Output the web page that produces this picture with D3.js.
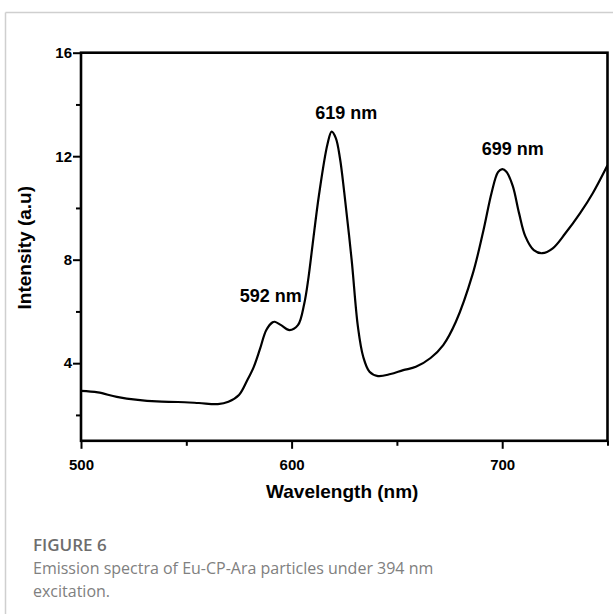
<!DOCTYPE html>
<html>
<head>
<meta charset="utf-8">
<script src="https://cdn.jsdelivr.net/npm/d3@7"></script>
<style>
  body { margin: 0; background: #fff; }
  svg { display: block; }
</style>
</head>
<body>
<div id="chart"></div>
<script>
// emission spectrum
const wavelength = [500, 508, 517, 527, 536, 546, 556, 565, 570, 575, 579, 582, 585, 588, 591, 592, 595, 599, 603, 606, 608, 610, 613, 617, 619, 621, 623, 625, 628.5, 631.5, 634, 637, 641, 647, 653, 659, 666, 672, 678, 686, 691, 695, 698, 700, 702, 705, 708, 711, 715, 719, 724, 730, 737, 743, 750];
const intensity = [2.93, 2.87, 2.70, 2.58, 2.52, 2.50, 2.46, 2.42, 2.51, 2.77, 3.35, 3.85, 4.55, 5.28, 5.58, 5.60, 5.47, 5.28, 5.47, 6.3, 7.3, 8.6, 10.5, 12.45, 12.95, 12.7, 11.9, 10.6, 8.0, 5.4, 4.25, 3.67, 3.50, 3.58, 3.73, 3.86, 4.2, 4.7, 5.6, 7.45, 9.1, 10.6, 11.38, 11.5, 11.4, 10.85, 9.8, 8.9, 8.37, 8.25, 8.44, 9.02, 9.8, 10.57, 11.65];

const peakLabels = ["592 nm", "619 nm", "699 nm"];
const peakAt = [[592, 6.35], [626, 13.44], [705, 12.05]];

const xTicksMajor = [500, 600, 700];
const xTicksMinor = [550, 650, 750];
const yTicksMajor = [4, 8, 12, 16];
const yTicksMinor = [2, 6, 10, 14];

const W = 613, H = 614;
const svg = d3.select("#chart").append("svg")
  .attr("width", W).attr("height", H);

// page frame
svg.append("line").attr("x1", 5.5).attr("x2", W).attr("y1", 12.5).attr("y2", 12.5)
  .attr("stroke", "#cfcfcf").attr("stroke-width", 1.5);
svg.append("line").attr("x1", 5.5).attr("x2", 5.5).attr("y1", 12.5).attr("y2", H)
  .attr("stroke", "#cfcfcf").attr("stroke-width", 1.5);

const plot = { left: 81, right: 607.5, top: 52.7, bottom: 440.8 };

const x = d3.scaleLinear().domain([500, 750]).range([plot.left, plot.right]);
const y = d3.scaleLinear().domain([1, 16]).range([plot.bottom, plot.top]);

const g = svg.append("g");

svg.append("defs").append("clipPath").attr("id", "clip")
  .append("rect")
  .attr("x", plot.left).attr("y", plot.top)
  .attr("width", plot.right - plot.left).attr("height", plot.bottom - plot.top);

// spectrum line
const line = d3.line()
  .x((d, i) => x(wavelength[i]))
  .y(d => y(d))
  .curve(d3.curveCatmullRom.alpha(0.5));

g.append("path")
  .datum(intensity)
  .attr("clip-path", "url(#clip)")
  .attr("fill", "none")
  .attr("stroke", "#000")
  .attr("stroke-width", 2.2)
  .attr("d", line);

// axes (ticks outward)
function styleAxis(sel) {
  sel.select(".domain").remove();
  sel.selectAll("line").attr("stroke", "#000").attr("stroke-width", 2);
  sel.selectAll("text")
    .attr("fill", "#000")
    .style("font-family", "Liberation Sans, Arial, sans-serif")
    .style("font-weight", "bold")
    .style("font-size", "15px");
}

g.append("g").attr("transform", `translate(0,${plot.bottom})`)
  .call(d3.axisBottom(x).tickValues(xTicksMajor).tickSize(8).tickPadding(11).tickFormat(d3.format("d")))
  .call(styleAxis);
g.append("g").attr("transform", `translate(0,${plot.bottom})`)
  .call(d3.axisBottom(x).tickValues(xTicksMinor).tickSize(5).tickFormat(""))
  .call(styleAxis);

g.append("g").attr("transform", `translate(${plot.left},0)`)
  .call(d3.axisLeft(y).tickValues(yTicksMajor).tickSize(8).tickPadding(1).tickFormat(d3.format("d")))
  .call(styleAxis);
g.append("g").attr("transform", `translate(${plot.left},0)`)
  .call(d3.axisLeft(y).tickValues(yTicksMinor).tickSize(5).tickFormat(""))
  .call(styleAxis);

// frame box
g.append("rect")
  .attr("x", plot.left).attr("y", plot.top)
  .attr("width", plot.right - plot.left).attr("height", plot.bottom - plot.top)
  .attr("fill", "none").attr("stroke", "#000").attr("stroke-width", 2.6);

// peak annotations
g.selectAll(".peak")
  .data(peakLabels)
  .join("text")
  .attr("class", "peak")
  .attr("x", (d, i) => x(peakAt[i][0]))
  .attr("y", (d, i) => y(peakAt[i][1]))
  .attr("text-anchor", (d, i) => i === 0 ? "end" : "middle")
  .attr("dx", (d, i) => i === 0 ? 27 : 0)
  .style("font-family", "Liberation Sans, Arial, sans-serif")
  .style("font-weight", "bold")
  .style("font-size", "18px")
  .text(d => d);

// axis titles
g.append("text")
  .attr("x", (plot.left + plot.right) / 2 - 2)
  .attr("y", 498)
  .attr("text-anchor", "middle")
  .style("font-family", "Liberation Sans, Arial, sans-serif")
  .style("font-weight", "bold")
  .style("font-size", "19px")
  .text("Wavelength (nm)");

g.append("text")
  .attr("transform", `translate(31,${(plot.top + plot.bottom) / 2 + 1}) rotate(-90)`)
  .attr("text-anchor", "middle")
  .style("font-family", "Liberation Sans, Arial, sans-serif")
  .style("font-weight", "bold")
  .style("font-size", "19px")
  .text("Intensity (a.u)");

// caption
const cap = svg.append("g").style("font-family", "'Open Sans', sans-serif");
cap.append("text").attr("x", 33).attr("y", 551)
  .attr("fill", "#6d6d6d").style("font-size", "17px").style("font-weight", "600")
  .text("FIGURE 6");
cap.append("text").attr("x", 33).attr("y", 574)
  .attr("fill", "#808080").style("font-size", "16px")
  .text("Emission spectra of Eu-CP-Ara particles under 394 nm");
cap.append("text").attr("x", 33).attr("y", 597)
  .attr("fill", "#808080").style("font-size", "16px")
  .text("excitation.");
</script>
</body>
</html>
